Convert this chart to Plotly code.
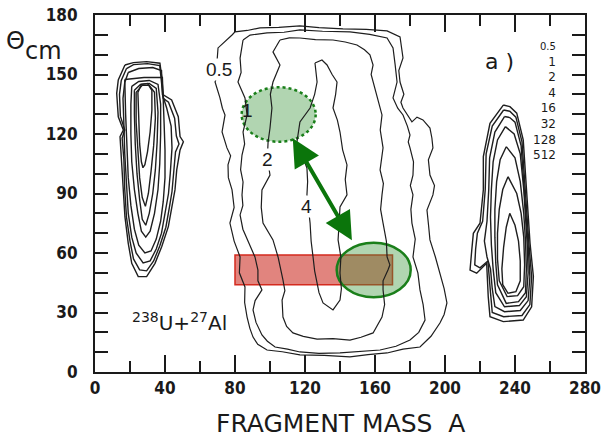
import plotly.graph_objects as go

# ---------------- data (fragment mass A, theta_cm in degrees) ----------------
level_labels = ["0.5", "1", "2", "4", "16", "32", "128", "512"]

# central (quasi-fission) contours
central_05 = [(78.3,169.9),(80.0,171.5),(87,172.2),(94.3,173.5),(105,173.8),(117.1,174.5),(128,173.6),(141.7,173.0),(155,172.8),(166.9,172.0),(174.3,168.9),(175.2,163),(176.0,158.3),(173.6,152),(174.3,146.2),(176.5,140),(174.8,136),(176.0,133.1),(181.1,126.1),(184,128.5),(187.4,127.1),(191.4,123.0),(192.5,118),(193.1,113.0),(190.5,107),(191.4,99.3),(194,94),(193.1,89.3),(189.7,81.7),(190.6,74),(191.4,66.6),(194.5,58),(197.1,49.9),(199.5,42),(201.1,34.8),(199.5,29),(197.1,24.7),(192,18),(185.7,12.6),(176,11.5),(166.9,9.6),(156,8.8),(145.7,7.6),(131,8.4),(117.1,8.6),(107,10.2),(98.3,11.1),(93,14),(90.3,17.6),(88.5,22),(86.9,27.7),(85.5,35),(85.7,42.9),(82.5,50),(82.9,58.0),(79.5,66),(77.1,75.1),(79.5,83),(78.3,91.8),(76.2,98),(76.0,104.4),(77.5,109),(75.4,113.0),(72.6,121.0),(74.3,129.6),(72.8,133),(71.4,138.2),(68.6,146.2),(70.5,151),(69.7,156.3),(70.3,163.4),(74,166.5),(78.3,169.9)]
central_1 = [(84.6,167.4),(88.6,169.9),(98.3,171.0),(108,171.3),(117.1,172.5),(130,171.8),(145.7,171.5),(157,170.2),(166.9,168.4),(170.3,163.4),(171.5,155),(172.6,146.2),(170.3,138.2),(173,133),(176.0,129.6),(178.5,124),(180.0,119.5),(179,116),(180.0,113.0),(182,106),(181.7,99.3),(180.2,94),(181.7,89.3),(180.5,82),(181.1,75.1),(183,67),(181.7,58.0),(184.5,50),(185.7,41.4),(187.5,34),(188.6,26.2),(185,20),(180.0,16.1),(172,13),(162.9,11.1),(150,10.3),(140.0,9.6),(128,9.4),(117.1,10.1),(110,11.5),(102.9,12.6),(98.5,15.5),(95.4,18.7),(92,25),(90.3,31.3),(91.5,36),(95.4,41.4),(93.1,46),(93.1,51.4),(91.4,58.0),(87.4,66.6),(84.5,72),(82.9,79.2),(84.5,84),(84.0,89.3),(84.6,95.8),(83.2,102),(84.0,109.4),(85.5,115),(84.6,121.0),(86.9,129.6),(85.7,138.2),(81.7,146.2),(83.5,151),(82.9,158.3),(84.6,167.4)]
central_2 = [(105.7,167.4),(111,168.5),(117.1,168.4),(126,167.6),(136.0,167.4),(143,166.4),(149.7,164.9),(154,162.5),(157.1,159.9),(158.9,154.8),(157.8,150),(158.9,146.2),(161.7,137.2),(164.0,129.6),(163,122),(164.6,113.0),(162.9,101.9),(164.8,95),(164.0,89.3),(163.2,82),(164.6,75.1),(166.5,66),(166.9,58.0),(168.5,54),(167.4,51.4),(164.6,46),(164.6,41.4),(165.5,34),(164.0,27.7),(158.9,19.7),(152,17.5),(145.7,16.1),(136,16.8),(126.9,16.6),(119,18),(113.1,19.7),(109.5,23),(107.4,27.7),(106.9,36.3),(108.5,41),(107.4,46.4),(105.7,53.0),(104.6,58.0),(101.7,66.6),(96.0,75.1),(95.0,83),(95.4,91.8),(100.0,99.3),(98.5,108),(98.9,116.0),(100.0,123.0),(101.1,133.1),(100.2,140),(101.7,146.2),(105.7,154.8),(101.7,161.4),(105.7,167.4)]
central_4 = [(125.7,155.8),(129.7,157.3),(132.6,154.8),(135.5,150),(138.3,146.2),(137.5,140),(136.0,133.1),(138.5,127),(140.0,121.0),(141.5,112),(144.0,104.4),(143,97),(144.0,89.3),(140.0,83.2),(139.5,75),(138.9,66.6),(140.5,58),(140.0,49.9),(140.8,42),(140.0,36.3),(136.0,31.3),(130.3,34.8),(128,40),(126.9,44.9),(125.5,51),(124.6,58.0),(123.5,66),(122.9,75.1),(121.1,89.3),(121.5,96),(121.1,102.9),(118,110),(115.4,116.0),(117.1,126.1),(122.9,133.1),(125.5,140),(126.9,146.2),(125.7,155.8)]

# light fragment (left) contours
left_1 = [(17.1,154.8),(21.9,156.0),(29.5,156.5),(37.1,155.7),(38.1,148.9),(39.0,139.7),(43.8,137.2),(47.6,128.7),(48.6,118.7),(50.5,116.1),(48.6,112.0),(46.7,101.9),(45.7,91.8),(43.8,83.4),(41.9,73.3),(38.1,63.2),(34.3,54.8),(29.5,48.1),(24.7,48.1),(21.0,54.8),(19.0,64.9),(17.1,78.3),(16.2,91.8),(15.3,106.9),(14.3,118.7),(16.2,122.0),(13.3,128.7),(12.4,140.5),(13.3,147.3),(17.1,154.8)]
left_2 = [(18,153),(22,155),(30,155.5),(37,154.5),(38,146),(39,138),(42,136),(45.5,128),(46.5,119),(48,115),(46,111),(45,101),(44,91),(42.5,83),(40.5,73),(37,63.5),(33.5,56),(29.5,51),(25.5,51.5),(22,57),(20,66),(18,78),(17,92),(16.5,107),(15.5,118),(17,122),(14.5,129),(14,140),(15,147),(18,153)]
left_3 = [(19,151),(25,153),(33,153.5),(38,152),(38.5,140),(41,133),(43.5,124),(44,113),(43,100),(42,90),(40,80),(38,70),(35,62),(31.5,56),(27.5,55),(23.5,60),(21,68),(19,80),(18,95),(17,110),(16.5,125),(16,138),(17,146),(19,151)]
left_4 = [(17,147.5),(28,148.5),(38.5,148.5),(39,140),(39.5,125),(40,112),(40,98),(39,86),(37.5,76),(35,67),(32,61),(28.5,60),(25,64),(22.5,72),(20.5,84),(19,98),(18,115),(17.5,130),(17,147.5)]
left_5 = [(21,144),(25,146.5),(31,147),(36,145),(37.5,135),(37.5,120),(37,105),(36,92),(34,80),(31.5,71),(29,68),(26.5,71),(24.5,80),(22.5,92),(21,106),(20.5,120),(20.5,135),(21,144)]
left_6 = [(22.5,142),(26,145),(31,145.5),(35,143),(36,131),(35.5,116),(34.5,102),(33,90),(31,80),(29,74),(27,77),(25.5,87),(24,100),(23,115),(22.5,130),(22.5,142)]
left_7 = [(23.5,141),(27,144.5),(31,144.5),(34,141),(34.5,128),(33.5,114),(32,101),(30.5,90),(28.8,83.5),(27,88),(25.5,98),(24.5,112),(23.5,126),(23.5,141)]
left_8 = [(24.5,141),(26.5,145),(30,145.5),(32.5,142),(32.5,132),(31.5,121),(30,111),(28.5,104.5),(27.4,103),(26.5,106),(25.5,115),(25,125),(24.5,134),(24.5,141)]

# heavy fragment (right) contours
right_1 = [(233.3,134.6),(225.7,125.4),(221.9,108.6),(221.9,91.8),(220,75),(216.2,69.9),(215.3,61.5),(214.3,51.4),(218.1,49.8),(223.8,54.8),(224.7,38),(225.7,27.9),(233.3,25.4),(244.7,26.2),(249.5,32.9),(250.5,48.1),(248.6,64.9),(247.6,78.3),(246.7,91.8),(244.7,117),(241,130.5),(237.1,133.8),(233.3,134.6)]
right_2 = [(233.5,132.1),(227,124),(223.5,110),(223,92),(221.5,76),(218.5,70),(217.5,62),(217,54),(220,52.5),(224.5,56),(226,40),(227,30),(233.5,27.9),(244,28.5),(248.5,34),(249.5,48),(248,64),(247,78),(246,92),(244,116),(240.5,128.5),(237,131.5),(233.5,132.1)]
right_3 = [(234,128.8),(228.5,121),(225.5,108),(225,92),(224,76),(222.5,66),(224,58),(226,52),(227,42),(228.5,33),(234,30.4),(243,31),(247.5,36),(248.5,48),(247.5,64),(246.5,78),(245.5,92),(243.5,114),(240,126),(237,128.3),(234,128.8)]
right_4 = [(234.5,123.7),(230,117),(227.5,106),(226.5,92),(226,78),(226.5,64),(227.5,52),(229,40),(234,32.9),(242.5,33.5),(246.5,38),(247.5,50),(247,64),(246,78),(245,92),(243,110),(239.5,120),(234.5,123.7)]
right_5 = [(235,113.6),(231.5,107),(229.5,96),(228.5,82),(228.5,68),(229,55),(230,44),(235,34.6),(242,35.5),(246,40),(246.5,52),(246,66),(245,80),(243,96),(240,108),(235,113.6)]
right_6 = [(236,98.5),(233,92),(231,82),(230,70),(230,57),(231,46),(235.5,38),(241.5,38.5),(245,43),(245.5,54),(245,68),(243.5,80),(241,90),(236,98.5)]
right_7 = [(237,80),(235,73),(233.5,63),(232.5,52),(233,44),(236,39.7),(240.5,40.5),(243,46),(243,56),(242,66),(240,74),(237,80)]

# highlighted regions
rect_x = [80, 170]
rect_y = [44, 59]
ellipse_lower = dict(x=[138.1, 180.4], y=[37.7, 65.2])
ellipse_upper = dict(x=[83.8, 126.1], y=[116.1, 143.6])
arrow_upper = (113.0, 117.8)
arrow_lower = (147.3, 65.7)

# labels on the central contours (value, x, y)
central_labels = [("0.5", 70.9, 152.3), ("1", 86.9, 132.1), ("2", 98.3, 106.9), ("4", 121.1, 83.2)]

x_ticks = [0, 40, 80, 120, 160, 200, 240, 280]
y_ticks = [0, 30, 60, 90, 120, 150, 180]

# ---------------- figure ----------------
fig = go.Figure()

central = [central_05, central_1, central_2, central_4]
blobs = [left_1, left_2, left_3, left_4, left_5, left_6, left_7, left_8,
         right_1, right_2, right_3, right_4, right_5, right_6, right_7]
for c in central + blobs:
    xs, ys = zip(*c)
    fig.add_trace(go.Scatter(x=list(xs), y=list(ys), mode="lines",
                             line=dict(color="#1e1e1e", width=1.2 if c in central else 1.4),
                             showlegend=False, hoverinfo="skip"))

fig.add_shape(type="rect", xref="x", yref="y", x0=rect_x[0], x1=rect_x[1],
              y0=rect_y[0], y1=rect_y[1], layer="below",
              fillcolor="rgba(205,50,40,0.6)", line=dict(color="#d42a1e", width=1.5))
fig.add_shape(type="circle", xref="x", yref="y",
              x0=ellipse_lower["x"][0], x1=ellipse_lower["x"][1],
              y0=ellipse_lower["y"][0], y1=ellipse_lower["y"][1], layer="below",
              fillcolor="rgba(60,150,60,0.4)", line=dict(color="#1a7f1a", width=2.5))
fig.add_shape(type="circle", xref="x", yref="y",
              x0=ellipse_upper["x"][0], x1=ellipse_upper["x"][1],
              y0=ellipse_upper["y"][0], y1=ellipse_upper["y"][1], layer="below",
              fillcolor="rgba(60,150,60,0.4)", line=dict(color="#1a7f1a", width=2.5, dash="dot"))

fig.add_annotation(x=arrow_upper[0], y=arrow_upper[1], ax=arrow_lower[0], ay=arrow_lower[1],
                   xref="x", yref="y", axref="x", ayref="y", text="", showarrow=True,
                   arrowhead=2, startarrowhead=2, arrowside="end+start",
                   arrowsize=1.4, startarrowsize=1.4, arrowwidth=4, arrowcolor="#0b750b")

for txt, xv, yv in central_labels:
    fig.add_annotation(x=xv, y=yv, xref="x", yref="y", text=txt, showarrow=False,
                       xanchor="center", yanchor="middle",
                       font=dict(family="Liberation Sans, Arial", size=19, color="#1a1a1a"),
                       bgcolor=None if txt == "1" else "white", borderpad=0)

# level legend column on the right (one block, right aligned)
legend_text = "<br>".join(
    ("<span style='font-size:10px'>%s</span>" % lab) if lab == "0.5" else lab
    for lab in level_labels)
fig.add_annotation(x=0.945, y=0.758, xref="paper", yref="paper", text=legend_text,
                   showarrow=False, xanchor="right", yanchor="middle", align="right",
                   font=dict(family="DejaVu Sans", size=12, color="#1a1a1a"))

def paper_text(txt, xp, yp, size, family="DejaVu Sans"):
    fig.add_annotation(x=xp, y=yp, xref="paper", yref="paper", text=txt, showarrow=False,
                       xanchor="center", yanchor="middle",
                       font=dict(family=family, size=size, color="#1a1a1a"))

paper_text("a )", 0.8265, 0.871, 22)
paper_text("<sup>238</sup>U+<sup>27</sup>Al", 0.173, 0.14, 20)
paper_text("Θ", -0.163, 0.927, 24)
paper_text("cm", -0.106, 0.899, 24)
paper_text("FRAGMENT MASS\u00a0\u00a0A", 0.5, -0.143, 25)

tickfont = dict(family="Liberation Sans Narrow, DejaVu Sans Condensed, Liberation Sans, Arial",
                size=17, color="#1a1a1a", weight="bold")
fig.update_xaxes(range=[0, 280], tickvals=x_ticks, ticks="inside", ticklen=17, tickwidth=2,
                 tickcolor="#1a1a1a", minor=dict(dtick=20, ticks="inside", ticklen=11,
                                                 tickwidth=2, tickcolor="#1a1a1a"),
                 showline=True, linewidth=2, linecolor="#1a1a1a", mirror="ticks",
                 showgrid=False, zeroline=False, tickfont=tickfont, automargin=False)
fig.update_yaxes(range=[0, 180], tickvals=y_ticks, ticks="inside", ticklen=13, tickwidth=2,
                 tickcolor="#1a1a1a", minor=dict(dtick=10, ticks="inside", ticklen=13,
                                                 tickwidth=2, tickcolor="#1a1a1a"),
                 showline=True, linewidth=2, linecolor="#1a1a1a", mirror="ticks",
                 showgrid=False, zeroline=False, tickfont=tickfont, ticklabelstandoff=12,
                 automargin=False)

fig.update_layout(width=603, height=438, margin=dict(l=95, r=18, t=15, b=66, autoexpand=False),
                  paper_bgcolor="white", plot_bgcolor="white", showlegend=False)

fig.write_html("out.html", config={"displayModeBar": False},
               post_script="document.body.style.margin='0';document.body.style.overflow='hidden';")
